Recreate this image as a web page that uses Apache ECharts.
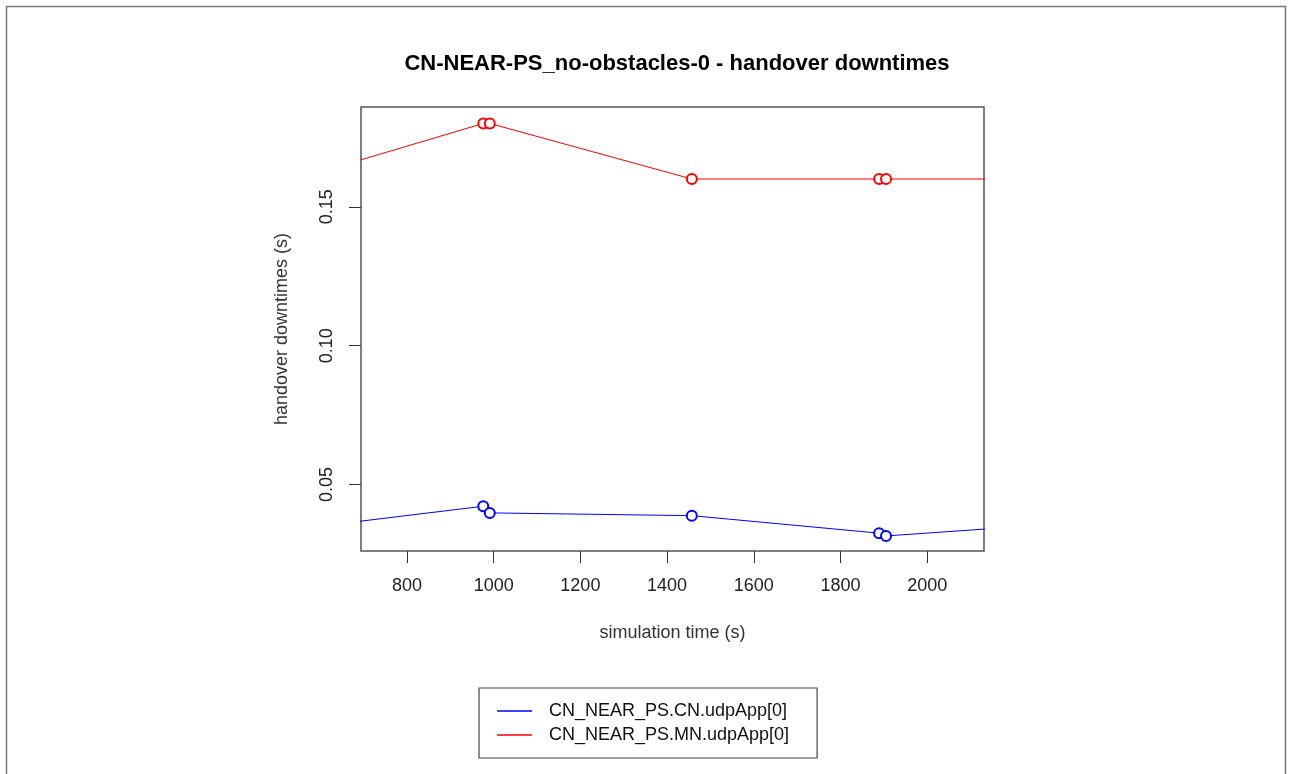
<!DOCTYPE html>
<html>
<head>
<meta charset="utf-8">
<script src="https://cdn.jsdelivr.net/npm/echarts@6/dist/echarts.min.js"></script>
<style>html,body{margin:0;padding:0;background:#fff;}#chart{width:1291px;height:774px;}</style>
</head>
<body>
<div id="chart"></div>
<script>
// Data (points outside the axis range only continue the lines to the plot edges)
const cnTimes = [545, 976, 991, 1457, 1889, 1905, 2300];
const cnValues = [0.034, 0.0422, 0.0398, 0.0388, 0.0325, 0.0315, 0.0358];
const mnTimes = [545, 976, 991, 1457, 1889, 1905, 2300];
const mnValues = [0.16, 0.18, 0.18, 0.16, 0.16, 0.16, 0.16];
const xTicks = [800, 1000, 1200, 1400, 1600, 1800, 2000];
const yTicks = [0.05, 0.10, 0.15];
const seriesNames = ['CN_NEAR_PS.CN.udpApp[0]', 'CN_NEAR_PS.MN.udpApp[0]'];

const font = "'Liberation Sans', Arial, sans-serif";
const chart = echarts.init(document.getElementById('chart'), null, {renderer: 'canvas'});

function pairs(xs, ys) { return xs.map((x, i) => [x, ys[i]]); }

chart.setOption({
  animation: false,
  backgroundColor: '#fff',
  title: {
    text: 'CN-NEAR-PS_no-obstacles-0 - handover downtimes',
    left: 672, top: 48, textAlign: 'center',
    textStyle: {fontFamily: font, fontWeight: 'bold', fontSize: 22, color: '#000'}
  },
  graphic: [{
    type: 'rect', left: 4, top: 4,
    shape: {width: 1279, height: 820},
    style: {fill: 'none', stroke: '#777', lineWidth: 1.5},
    silent: true
  }],
  grid: {
    left: 361, top: 107, right: 307, bottom: 223,
    show: true, borderColor: '#555', borderWidth: 1.5, backgroundColor: 'transparent'
  },
  legend: {
    orient: 'vertical', left: 479, top: 688,
    data: seriesNames,
    icon: 'rect', itemWidth: 35, itemHeight: 1.5, itemGap: 6,
    padding: [14, 28, 14, 18],
    borderColor: '#444', borderWidth: 1.2,
    textStyle: {fontFamily: font, fontSize: 18, color: '#111', padding: [0, 0, 0, 12], lineHeight: 16}
  },
  xAxis: {
    type: 'value', min: 694, max: 2131,
    name: 'simulation time (s)', nameLocation: 'middle', nameGap: 73,
    nameTextStyle: {fontFamily: font, fontSize: 18, color: '#333'},
    splitLine: {show: false},
    axisLine: {show: false},
    axisTick: {show: true, length: 12, lineStyle: {color: '#333'}, customValues: xTicks},
    axisLabel: {fontFamily: font, fontSize: 18, color: '#222', margin: 26, customValues: xTicks,
      formatter: v => String(v)}
  },
  yAxis: {
    type: 'value', min: 0.02608, max: 0.18592,
    name: 'handover downtimes (s)', nameLocation: 'middle', nameGap: 70,
    nameTextStyle: {fontFamily: font, fontSize: 18, color: '#333'},
    splitLine: {show: false},
    axisLine: {show: false},
    axisTick: {show: true, length: 12, lineStyle: {color: '#333'}, customValues: yTicks},
    axisLabel: {fontFamily: font, fontSize: 18, color: '#222', margin: 25, rotate: 90,
      customValues: yTicks, formatter: v => v.toFixed(2)}
  },
  series: [{
    name: seriesNames[0], type: 'line', data: pairs(cnTimes, cnValues),
    symbol: 'emptyCircle', symbolSize: 10, clip: true,
    lineStyle: {color: '#0000ff', width: 1}, itemStyle: {color: '#0000ff', borderWidth: 1}
  }, {
    name: seriesNames[1], type: 'line', data: pairs(mnTimes, mnValues),
    symbol: 'emptyCircle', symbolSize: 10, clip: true,
    lineStyle: {color: '#ff0000', width: 1}, itemStyle: {color: '#ff0000', borderWidth: 1}
  }]
});
</script>
</body>
</html>
